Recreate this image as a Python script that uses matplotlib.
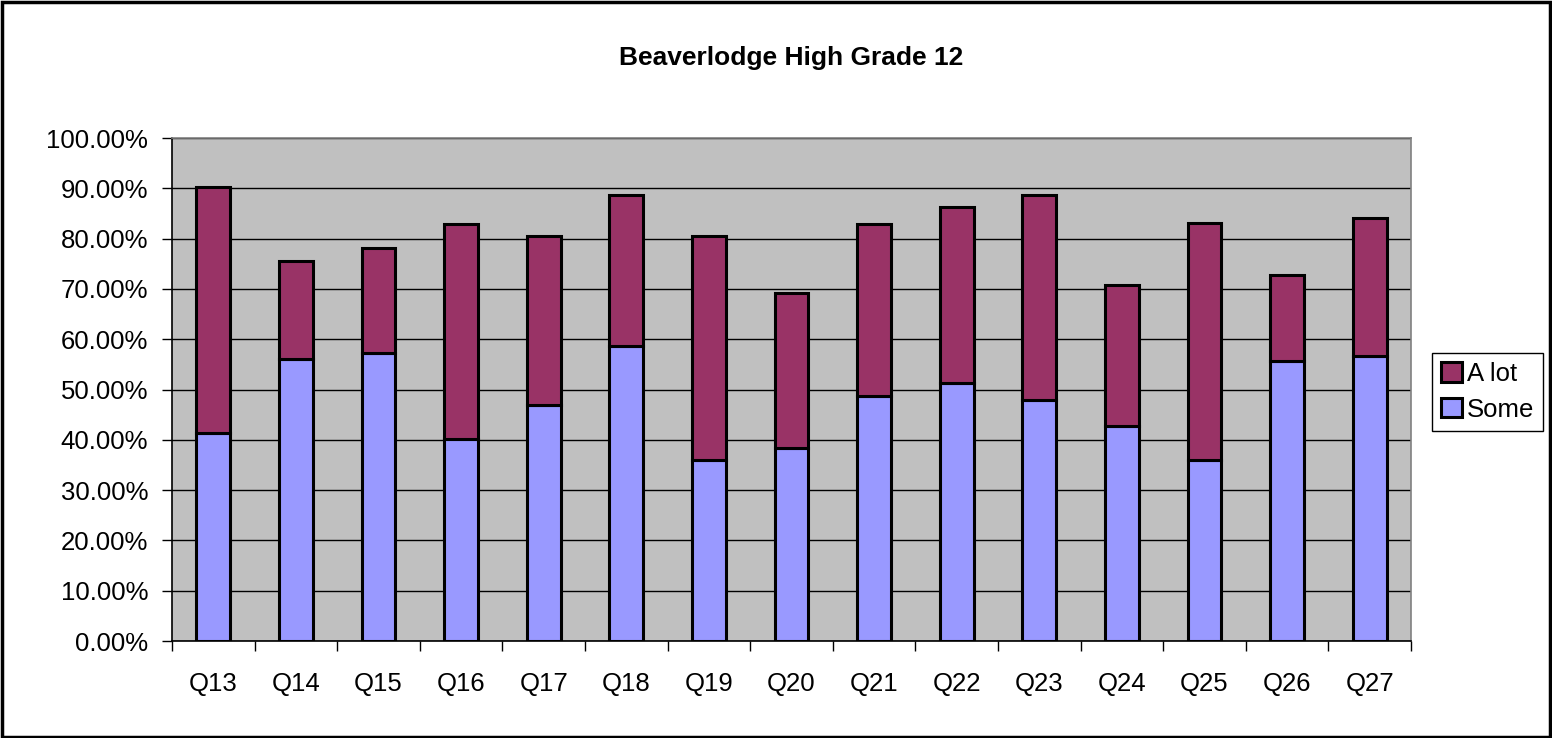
import numpy as np
import matplotlib.pyplot as plt
from matplotlib.patches import Rectangle
from matplotlib.ticker import PercentFormatter, FixedLocator

plt.rcParams['font.family'] = ['Liberation Sans', 'DejaVu Sans']

questions = ['Q13', 'Q14', 'Q15', 'Q16', 'Q17', 'Q18', 'Q19', 'Q20',
             'Q21', 'Q22', 'Q23', 'Q24', 'Q25', 'Q26', 'Q27']
some = [0.414, 0.561, 0.573, 0.402, 0.470, 0.587, 0.360, 0.384,
        0.487, 0.512, 0.480, 0.427, 0.360, 0.556, 0.567]
total = [0.902, 0.755, 0.781, 0.830, 0.806, 0.887, 0.806, 0.692,
         0.830, 0.862, 0.887, 0.707, 0.831, 0.728, 0.840]
a_lot = [t - s for t, s in zip(total, some)]

fig = plt.figure(figsize=(15.52, 7.38), dpi=100)
ax = fig.add_axes([0.1108, 0.1314, 0.7984, 0.6816])
ax.set_facecolor('#C0C0C0')

x = np.arange(len(questions))
width = 0.41
b1 = ax.bar(x, some, width, color='#9999FF', edgecolor='black', linewidth=2.2, label='Some', zorder=3)
b2 = ax.bar(x, a_lot, width, bottom=some, color='#993366', edgecolor='black', linewidth=2.2, label='A lot', zorder=3)

ax.set_xlim(-0.5, len(questions) - 0.5)
ax.set_ylim(0, 1)
ax.yaxis.set_major_locator(FixedLocator(np.arange(0, 1.01, 0.1)))
ax.yaxis.set_major_formatter(PercentFormatter(1, decimals=2))
ax.grid(axis='y', color='black', linewidth=1, zorder=1)
ax.set_axisbelow(True)

ax.set_xticks(x)
ax.set_xticklabels(questions)
ax.set_xticks(np.arange(-0.5, len(questions), 1), minor=True)
ax.tick_params(axis='x', which='major', length=0, pad=22, labelsize=18.5)
ax.tick_params(axis='x', which='minor', length=7, direction='out', width=1)
ax.tick_params(axis='y', length=7, direction='out', width=1, labelsize=18.5, pad=10)

ax.spines['left'].set_color('black')
ax.spines['bottom'].set_color('black')
ax.spines['top'].set_color('#808080')
ax.spines['right'].set_color('#808080')
for s in ax.spines.values():
    s.set_linewidth(1.2)

fig.text(0.51, 0.922, 'Beaverlodge High Grade 12', ha='center', va='center',
         fontsize=19, fontweight='bold')

leg = ax.legend(handles=[b2, b1], labels=['A lot', 'Some'], loc='upper left',
                bbox_to_anchor=(0.9227, 0.5217), bbox_transform=fig.transFigure,
                borderaxespad=0, fancybox=False, shadow=False, fontsize=18.5,
                handlelength=0.8, handleheight=0.8, handletextpad=0.2,
                labelspacing=0.45, borderpad=0.35, framealpha=1)
leg.get_frame().set_edgecolor('black')
leg.get_frame().set_linewidth(1)

fig.patches.append(Rectangle((0.001, 0.001), 0.998, 0.996, transform=fig.transFigure,
                             fill=False, edgecolor='black', linewidth=2.5))

fig.savefig('out.png', dpi=100)
